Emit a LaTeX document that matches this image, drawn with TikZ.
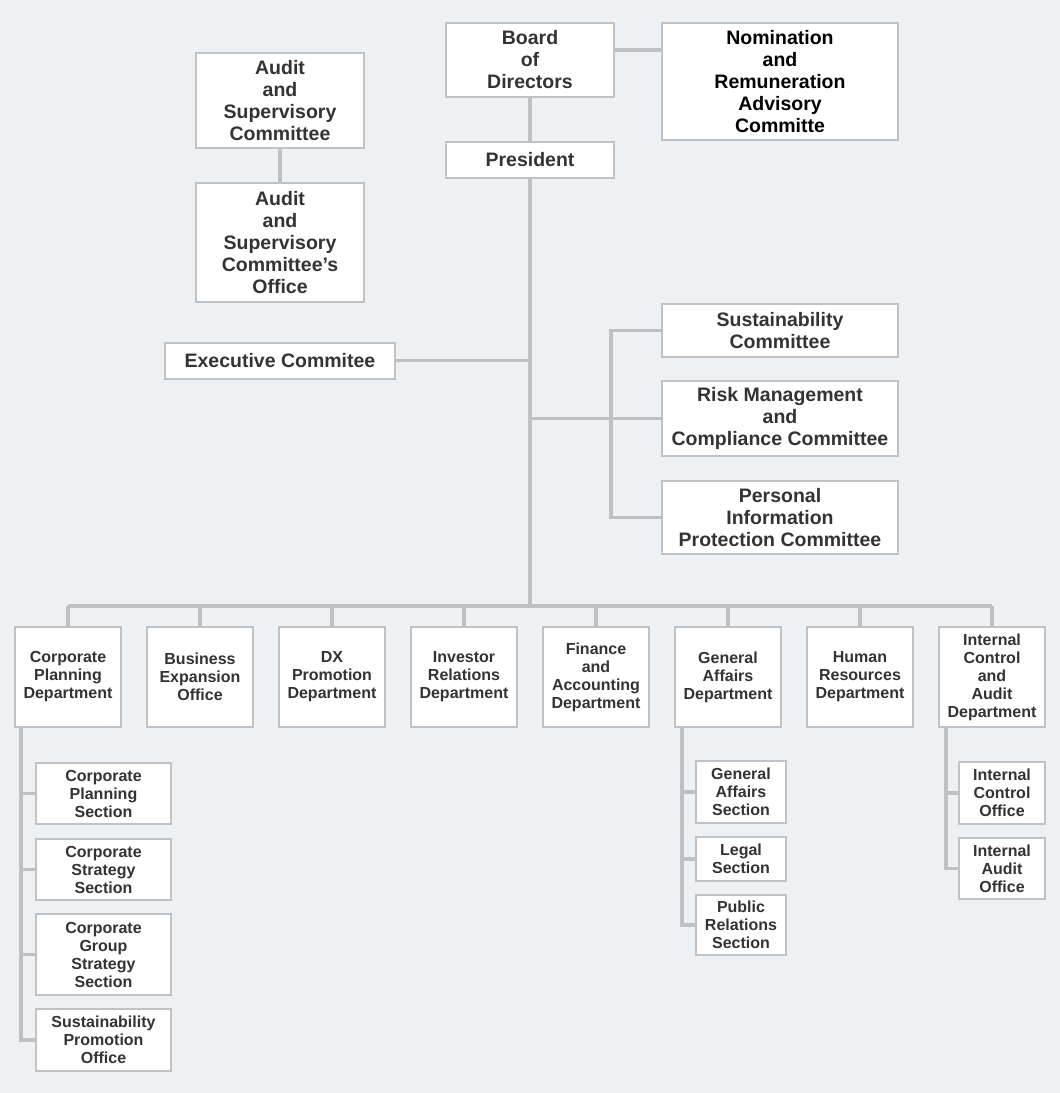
\documentclass[tikz,border=0pt]{standalone}
\usepackage{fontspec}
\setmainfont{Liberation Sans}
\usetikzlibrary{positioning,calc}
\definecolor{orgback}{RGB}{238,241,244}
\definecolor{orgline}{RGB}{190,193,196}
\definecolor{orgframe}{RGB}{192,194,196}
\definecolor{orgtext}{RGB}{51,51,51}
\tikzset{
    unit/.style={rectangle, draw=orgframe, line width=2pt, fill=white, text=orgtext, align=center, inner sep=0pt, font=\fontsize{19.5}{22}\selectfont\bfseries},
    dept/.style={unit, minimum width=106, minimum height=100, font=\fontsize{16}{18}\selectfont\bfseries},
    sect/.style={unit, font=\fontsize{16}{18}\selectfont\bfseries},
    line/.style={draw=orgline, line width=3.5pt}
}

\begin{document}
\begin{tikzpicture}[x=1pt, y=-1pt]
    % Background
    \fill[orgback] (0,0) rectangle (1060,1093);
    \useasboundingbox (0,0) rectangle (1060,1093);

    % Top level
    \node[unit, minimum width=168, minimum height=74] (board) at (530,60) {Board\\of\\Directors};
    \node[unit, minimum width=236, minimum height=117, text=black] (nom) at (780,81.5) {Nomination\\and\\Remuneration\\Advisory\\Committe};
    \node[unit, minimum width=168, minimum height=36] (pres) at (530,160) {President};

    % Audit
    \node[unit, minimum width=168, minimum height=95] (audc) at (280,100.5) {Audit\\and\\Supervisory\\Committee};
    \node[unit, minimum width=168, minimum height=119] (audo) at (280,242.5) {Audit\\and\\Supervisory\\Committee’s\\Office};
    \node[unit, minimum width=230, minimum height=36] (exec) at (280,360.5) {Executive Commitee};

    % Committees
    \node[unit, minimum width=236, minimum height=53] (sust) at (780,330.5) {Sustainability\\Committee};
    \node[unit, minimum width=236, minimum height=75] (risk) at (780,418.5) {Risk Management\\and\\Compliance Committee};
    \node[unit, minimum width=236, minimum height=73] (pers) at (780,517.5) {Personal\\Information\\Protection Committee};

    % Departments
    \foreach \x/\n/\txt in {68/d1/{Corporate\\Planning\\Department}, 200/d2/{Business\\Expansion\\Office},
        332/d3/{DX\\Promotion\\Department}, 464/d4/{Investor\\Relations\\Department},
        596/d5/{Finance\\and\\Accounting\\Department}, 728/d6/{General\\Affairs\\Department},
        860/d7/{Human\\Resources\\Department}, 992/d8/{Internal\\Control\\and\\Audit\\Department}} {
        \node[dept] (\n) at (\x,677) {\txt};
        \draw[line] (\n.north) -- ++(0,-20);
    }

    % Sections
    \node[sect, minimum width=135, minimum height=61] (s11) at (103.5,793.5) {Corporate\\Planning\\Section};
    \node[sect, minimum width=135, minimum height=61] (s12) at (103.5,869.5) {Corporate\\Strategy\\Section};
    \node[sect, minimum width=135, minimum height=81] (s13) at (103.5,954.5) {Corporate\\Group\\Strategy\\Section};
    \node[sect, minimum width=135, minimum height=62] (s14) at (103.5,1040) {Sustainability\\Promotion\\Office};

    \node[sect, minimum width=90, minimum height=62] (g1) at (741,792) {General\\Affairs\\Section};
    \node[sect, minimum width=90, minimum height=44] (g2) at (741,859) {Legal\\Section};
    \node[sect, minimum width=90, minimum height=60] (g3) at (741,925) {Public\\Relations\\Section};

    \node[sect, minimum width=86, minimum height=62] (i1) at (1002,793) {Internal\\Control\\Office};
    \node[sect, minimum width=86, minimum height=61] (i2) at (1002,868.5) {Internal\\Audit\\Office};

    % Connectors
    \draw[line] (board) -- (pres);
    \draw[line] ([yshift=-28pt]board.north east) -- ([yshift=-28pt]board.north east -| nom.west);
    \draw[line] (audc) -- (audo);
    \draw[line] (pres.south) -- ([yshift=20pt]d1.north -| pres.south);
    \draw[line] ([yshift=20pt]d1.north) -- ([yshift=20pt]d8.north);
    \draw[line] (exec.east) -- (exec.east -| pres.south);
    \draw[line] (risk.west) -- (risk.west -| pres.south);
    \coordinate (brk) at (611,0);
    \draw[line] (sust.west) -- (sust.west -| brk) -- (pers.west -| brk) -- (pers.west);

    \draw[line] ([xshift=7pt]d1.south west) |- (s14.west);
    \foreach \s in {s11,s12,s13} {
        \draw[line] (\s.west) -- ++(-14,0);
    }
    \draw[line] ([xshift=8pt]d6.south west) |- (g3.west);
    \foreach \s in {g1,g2} {
        \draw[line] (\s.west) -- ++(-13,0);
    }
    \draw[line] ([xshift=8pt]d8.south west) |- (i2.west);
    \draw[line] (i1.west) -- ++(-12,0);
\end{tikzpicture}
\end{document}
